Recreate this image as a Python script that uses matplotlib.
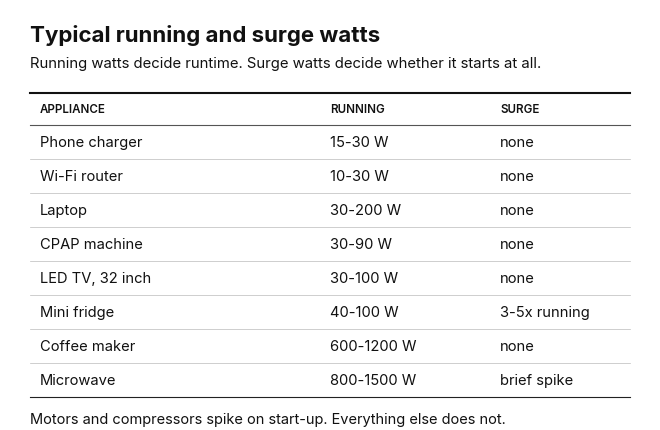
import matplotlib
matplotlib.use("Agg")
import matplotlib.pyplot as plt
from matplotlib.lines import Line2D

title = "Typical running and surge watts"
subtitle = "Running watts decide runtime. Surge watts decide whether it starts at all."
footnote = "Motors and compressors spike on start-up. Everything else does not."
headers = ["APPLIANCE", "RUNNING", "SURGE"]
appliances = ["Phone charger", "Wi-Fi router", "Laptop", "CPAP machine", "LED TV, 32 inch",
              "Mini fridge", "Coffee maker", "Microwave"]
running = ["15-30 W", "10-30 W", "30-200 W", "30-90 W", "30-100 W", "40-100 W", "600-1200 W", "800-1500 W"]
surge = ["none", "none", "none", "none", "none", "3-5x running", "none", "brief spike"]

W, H = 660, 430
fig = plt.figure(figsize=(6.6, 4.3), dpi=100)
fig.patch.set_facecolor("white")
plt.rcParams['font.family'] = ['Inter', 'DejaVu Sans']

def tx(x, y, s, **kw):
    fig.text(x / W, 1 - y / H, s, va="center", ha="left", color="#111111", **kw)

def hl(y, lw, color="#222222"):
    fig.add_artist(Line2D([30 / W, 630 / W], [1 - y / H] * 2, lw=lw, color=color))

tx(30, 36, title, fontsize=16, fontweight="bold")
tx(30, 64, subtitle, fontsize=10.7)
hl(93, 1.5, "#111111")
cols = [40, 330, 500]
for c, h in zip(cols, headers):
    tx(c, 110, h, fontsize=8.3, fontweight="semibold")
hl(125, 0.8, "#555555")
for i, row in enumerate(zip(appliances, running, surge)):
    y = 143 + 34 * i
    for c, s in zip(cols, row):
        tx(c, y, s, fontsize=10.6)
    hl(y + 16, 0.8 if i == len(appliances) - 1 else 0.5,
       "#222222" if i == len(appliances) - 1 else "#bbbbbb")
tx(30, 420, footnote, fontsize=10.5)

fig.savefig("out.png", dpi=100, facecolor="white")
